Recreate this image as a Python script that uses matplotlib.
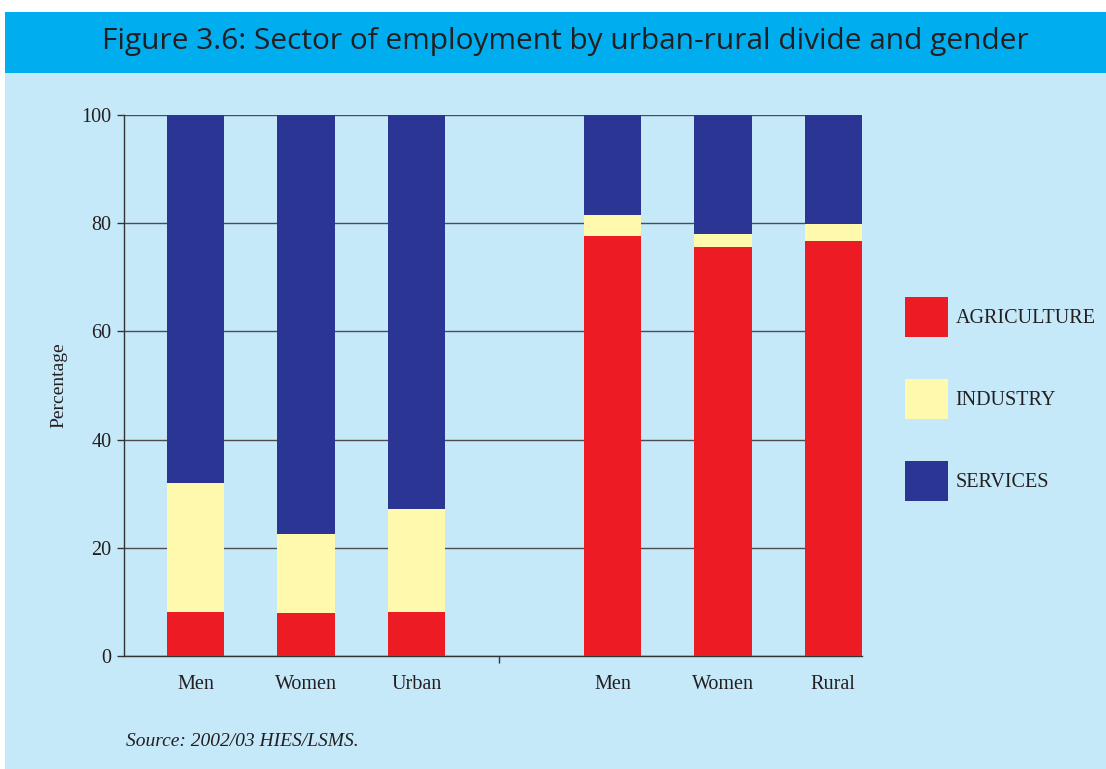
import numpy as np
import matplotlib.pyplot as plt
from matplotlib.patches import Rectangle

# Data (percent of employed)
categories = ['Men', 'Women', 'Urban', 'Men', 'Women', 'Rural']
agriculture = [8.1, 7.9, 8.1, 77.6, 75.6, 76.7]
industry = [23.9, 14.6, 19.1, 3.9, 2.4, 3.2]
services = [68.0, 77.5, 72.8, 18.5, 22.0, 20.1]
sectors = ['AGRICULTURE', 'INDUSTRY', 'SERVICES']

colors = {'AGRICULTURE': '#ED1C24', 'INDUSTRY': '#FFF9AE', 'SERVICES': '#2B3593'}
title_bg = '#00AEEF'
panel_bg = '#C6E9FA'
text_col = '#231F20'

# two groups of three bars with a gap between them
group_gap = 3.78
x = np.array([0, 1, 2, group_gap, group_gap + 1, group_gap + 2])
width = 0.52

fig = plt.figure(figsize=(11.06, 7.69), dpi=100)
fig.patch.set_facecolor('white')

# background panels
fig.patches.append(Rectangle((5 / 1106, 0), 1, 1 - 73 / 769, transform=fig.transFigure,
                             facecolor=panel_bg, edgecolor='none', zorder=-2))
fig.patches.append(Rectangle((5 / 1106, 1 - 73 / 769), 1, 61 / 769, transform=fig.transFigure,
                             facecolor=title_bg, edgecolor='none', zorder=-2))
fig.text(0.511, 1 - 42 / 769, 'Figure 3.6: Sector of employment by urban-rural divide and gender',
         ha='center', va='center', fontsize=21.5, color=text_col, family='Open Sans')

ax = fig.add_axes([124 / 1106, 1 - 656 / 769, (862 - 124) / 1106, (656 - 115) / 769])
ax.set_facecolor(panel_bg)

bottom = np.zeros(len(x))
for name, vals in zip(sectors, [agriculture, industry, services]):
    ax.bar(x, vals, width, bottom=bottom, color=colors[name], edgecolor='none',
           label=name, zorder=3)
    bottom += np.array(vals)

ax.set_ylim(0, 100)
ax.set_xlim(-0.65, x[-1] + width / 2)
ax.set_yticks([0, 20, 40, 60, 80, 100])
ax.yaxis.grid(True, color='#4d4d4d', linewidth=1.0, zorder=0)
ax.set_axisbelow(True)

ax.set_xticks(x)
ax.set_xticklabels(categories)
ax.set_xticks([2.745], minor=True)
ax.tick_params(axis='x', which='major', length=0, pad=14)
ax.tick_params(axis='x', which='minor', length=5, color='#333333', width=1)
ax.tick_params(axis='y', length=5, color='#333333', width=1, pad=4)
for lab in ax.get_xticklabels() + ax.get_yticklabels():
    lab.set_family('Liberation Serif')
    lab.set_fontsize(14.5)
    lab.set_color(text_col)

for s in ['top', 'right']:
    ax.spines[s].set_visible(False)
for s in ['left', 'bottom']:
    ax.spines[s].set_color('#333333')
    ax.spines[s].set_linewidth(1.0)

ax.set_ylabel('Percentage', family='Liberation Serif', fontsize=14, color=text_col, labelpad=10)

leg = ax.legend(loc='upper left', bbox_to_anchor=(1.034, 0.698), frameon=False,
                handlelength=2.1, handleheight=2.75, labelspacing=2.04, handletextpad=0.4,
                prop={'family': 'Liberation Serif', 'size': 14.5})
for t in leg.get_texts():
    t.set_color(text_col)

fig.text(126 / 1106, 1 - 742 / 769, 'Source: 2002/03 HIES/LSMS.', family='Liberation Serif',
         style='italic', fontsize=14, color=text_col, va='center')

fig.savefig('out.png', dpi=100, facecolor=fig.get_facecolor())
